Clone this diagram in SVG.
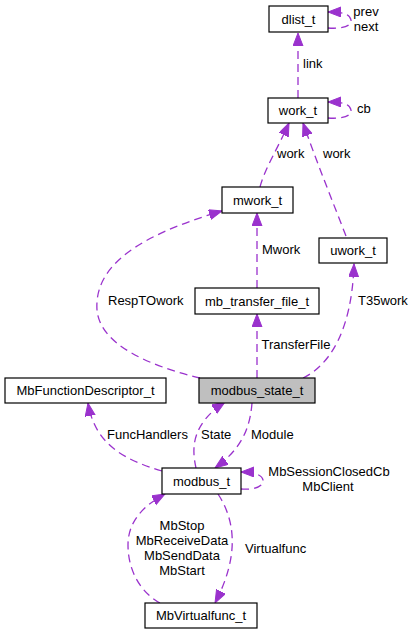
<svg xmlns="http://www.w3.org/2000/svg" width="413" height="635" viewBox="0 0 413 635">
<defs>
<style>
.node rect{fill:#ffffff;stroke:#000000;stroke-width:1.2}
.node.sel rect{fill:#bfbfbf}
.node text{font-family:"Liberation Sans",Arial,sans-serif;font-size:13px;fill:#000;text-anchor:middle}
.edge{fill:none;stroke:#9a32cd;stroke-width:1.3;stroke-dasharray:8,5;marker-end:url(#arr)}
.lbl{font-family:"Liberation Sans",Arial,sans-serif;font-size:13px;fill:#000}
.mid{text-anchor:middle}
</style>
<marker id="arr" markerUnits="userSpaceOnUse" markerWidth="14" markerHeight="12" refX="13" refY="5" orient="auto">
<path d="M0,0 L13,5 L0,10 Z" fill="#9a32cd" stroke="#9a32cd" stroke-width="1"/>
</marker>
</defs>
<rect width="413" height="635" fill="#ffffff"/>
<g id="connectors">
<path class="edge" d="M298,98 L298,33"/>
<path class="edge" d="M328,28 C340,29 352,27 351,20 C350,14 343,12 328,12"/>
<path class="edge" d="M328,118 C340,119 352,117 351,110 C350,104 343,102 328,102"/>
<path class="edge" d="M260,187 C265,168 278,148 289,123"/>
<path class="edge" d="M346,236 C332,200 316,160 303,123"/>
<path class="edge" d="M257,288 L257,213"/>
<path class="edge" d="M200,378 C150,366 100,345 97,310 C94,265 140,235 222,211"/>
<path class="edge" d="M257,378 L257,314"/>
<path class="edge" d="M303,378 C330,365 352,330 354,264"/>
<path class="edge" d="M162,471 C125,460 95,445 88,403"/>
<path class="edge" d="M196,468 C192,450 190,425 225,402"/>
<path class="edge" d="M252,403 C250,430 240,450 215,468"/>
<path class="edge" d="M241,489 C253,490 264,487 263,480 C262,475 255,472 241,472"/>
<path class="edge" d="M218,494 C235,520 240,555 215,603"/>
<path class="edge" d="M160,603 C140,592 128,570 128,545 C128,520 145,505 165,494"/>
</g>
<g id="edge-labels">
<text class="lbl mid" x="366" y="16">prev</text>
<text class="lbl mid" x="366" y="30.5">next</text>
<text class="lbl" x="303" y="68">link</text>
<text class="lbl" x="357" y="113">cb</text>
<text class="lbl" x="277" y="158">work</text>
<text class="lbl" x="323" y="158">work</text>
<text class="lbl" x="262" y="253.5">Mwork</text>
<text class="lbl" x="108" y="305">RespTOwork</text>
<text class="lbl" x="358" y="305">T35work</text>
<text class="lbl" x="261.5" y="348.5">TransferFile</text>
<text class="lbl" x="107" y="438.5">FuncHandlers</text>
<text class="lbl" x="201" y="438.5">State</text>
<text class="lbl" x="251" y="438.5">Module</text>
<text class="lbl mid" x="329" y="476">MbSessionClosedCb</text>
<text class="lbl mid" x="328" y="491">MbClient</text>
<text class="lbl mid" x="182" y="529.5">MbStop</text>
<text class="lbl mid" x="182" y="544.5">MbReceiveData</text>
<text class="lbl mid" x="182" y="559.5">MbSendData</text>
<text class="lbl mid" x="182" y="574.5">MbStart</text>
<text class="lbl" x="245" y="552.5">Virtualfunc</text>
</g>
<g id="dlist_t" class="node"><rect x="269" y="6" width="59" height="26"/><text x="298.5" y="23.5">dlist_t</text></g>
<g id="work_t" class="node"><rect x="268" y="98" width="60" height="25"/><text x="298" y="115">work_t</text></g>
<g id="mwork_t" class="node"><rect x="222" y="187" width="71" height="26"/><text x="257.5" y="204.5">mwork_t</text></g>
<g id="uwork_t" class="node"><rect x="319" y="238" width="68" height="25"/><text x="353" y="255">uwork_t</text></g>
<g id="mb_transfer_file_t" class="node"><rect x="195" y="288" width="124" height="26"/><text x="257" y="305.5">mb_transfer_file_t</text></g>
<g id="MbFunctionDescriptor_t" class="node"><rect x="5" y="378" width="161" height="25"/><text x="85.5" y="395">MbFunctionDescriptor_t</text></g>
<g id="modbus_state_t" class="node sel"><rect x="199" y="378" width="116" height="25"/><text x="257" y="395">modbus_state_t</text></g>
<g id="modbus_t" class="node"><rect x="162" y="468" width="79" height="26"/><text x="201.5" y="485.5">modbus_t</text></g>
<g id="MbVirtualfunc_t" class="node"><rect x="145" y="603" width="112" height="25"/><text x="201" y="620">MbVirtualfunc_t</text></g>
</svg>
